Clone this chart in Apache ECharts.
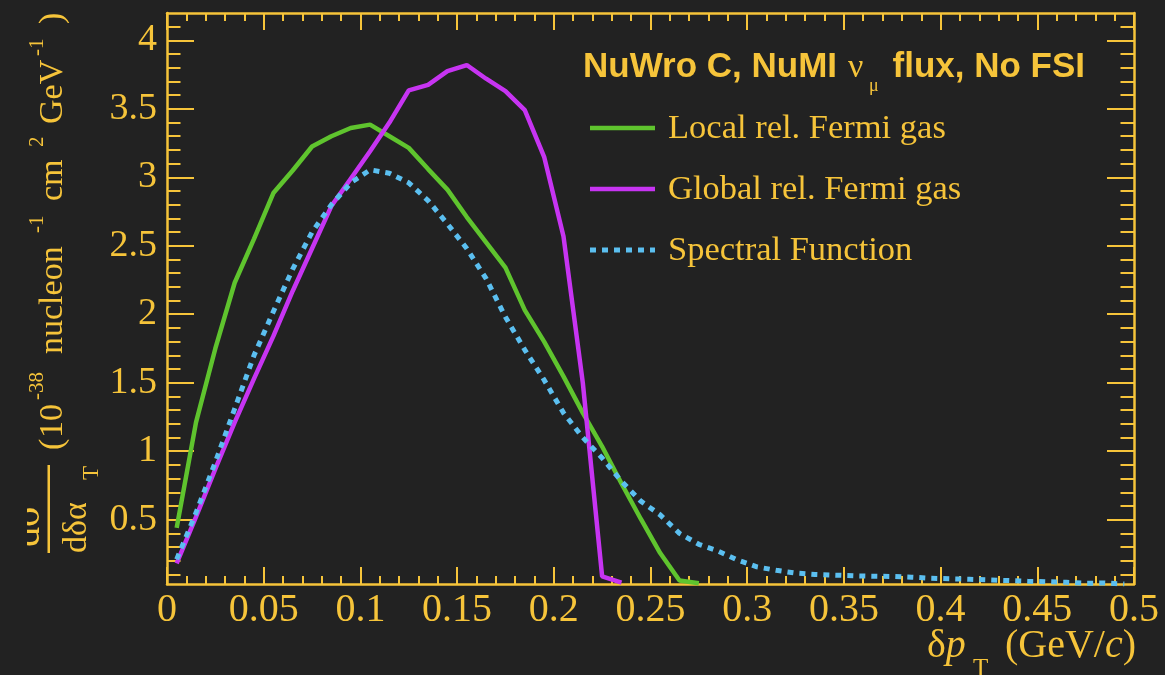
<!DOCTYPE html>
<html>
<head>
<meta charset="utf-8">
<script src="https://cdn.jsdelivr.net/npm/echarts@6/dist/echarts.min.js"></script>
<style>
html,body{margin:0;padding:0;background:#222222;}
#chart{width:1165px;height:675px;}
</style>
</head>
<body>
<div id="chart"></div>
<script>
// ---- data ----
const binCenters = [0.005,0.015,0.025,0.035,0.045,0.055,0.065,0.075,0.085,0.095,
  0.105,0.115,0.125,0.135,0.145,0.155,0.165,0.175,0.185,0.195,
  0.205,0.215,0.225,0.235,0.245,0.255,0.265,0.275,0.285,0.295,
  0.305,0.315,0.325,0.335,0.345,0.355,0.365,0.375,0.385,0.395,
  0.405,0.415,0.425,0.435,0.445,0.455,0.465,0.475,0.485,0.495];

const localRFG = [0.44,1.21,1.75,2.23,2.55,2.885,3.05,3.225,3.30,3.36,
  3.385,3.30,3.215,3.06,2.91,2.71,2.525,2.34,2.03,1.80,
  1.546,1.28,1.034,0.764,0.505,0.256,0.055,0.035];

const globalRFG = [0.18,0.52,0.87,1.21,1.53,1.84,2.17,2.48,2.79,2.99,
  3.19,3.40,3.635,3.675,3.775,3.82,3.72,3.63,3.49,3.15,
  2.57,1.50,0.085,0.04];

const spectralFn = [0.21,0.55,0.92,1.31,1.70,2.02,2.33,2.60,2.80,2.96,
  3.055,3.03,2.96,2.83,2.66,2.48,2.26,1.98,1.74,1.52,
  1.28,1.10,0.95,0.78,0.635,0.535,0.40,0.32,0.27,0.205,
  0.155,0.13,0.11,0.10,0.095,0.09,0.087,0.085,0.08,0.072,
  0.068,0.064,0.06,0.055,0.05,0.047,0.042,0.036,0.037,0.03];

const seriesNames = ['Local rel. Fermi gas','Global rel. Fermi gas','Spectral Function'];
const seriesColors = ['#5fc42e','#c734f2','#5bbff0'];

const xRange = [0, 0.5];
const xTickStep = 0.05;
const yRange = [0.03, 4.2];
const yMajorTicks = [0.5,1,1.5,2,2.5,3,3.5,4];
const yMinorTicks = [0.1,0.2,0.3,0.4,0.5,0.6,0.7,0.8,0.9,1.0,1.1,1.2,1.3,1.4,1.5,1.6,1.7,1.8,1.9,2.0,
  2.1,2.2,2.3,2.4,2.5,2.6,2.7,2.8,2.9,3.0,3.1,3.2,3.3,3.4,3.5,3.6,3.7,3.8,3.9,4.0,4.1];

// ---- chart ----
const YEL = '#f6c43a';
const SERIF = 'Liberation Serif';
const LINE_W = [4.5, 4.5, 5];
const LINE_TYPE = ['solid', 'solid', [6, 6]];

function pairs(vals){ return vals.map((v,i)=>[binCenters[i], v]); }

const chart = echarts.init(document.getElementById('chart'), null, {renderer:'canvas'});

function xAxisCfg(pos, showLabel){
  return {
    type:'value', position:pos, min:xRange[0], max:xRange[1], interval:xTickStep,
    axisLine:{show:true, onZero:false, lineStyle:{color:YEL, width:2.5}},
    axisTick:{show:true, inside:true, length:17, lineStyle:{color:YEL, width:2}},
    minorTick:{show:true, splitNumber:5, length:8, lineStyle:{color:YEL, width:2}},
    splitLine:{show:false}, minorSplitLine:{show:false},
    axisLabel:{show:showLabel, color:YEL, fontFamily:SERIF, fontSize:40, margin:6}
  };
}
function yAxisCfg(pos, major){
  return {
    type:'value', position:pos, min:yRange[0], max:yRange[1],
    axisLine:{show:major, onZero:false, lineStyle:{color:YEL, width:2.5}},
    axisTick:{show:true, inside:true, length: major ? 27 : 13.5,
      customValues: major ? yMajorTicks : yMinorTicks, lineStyle:{color:YEL, width:2}},
    splitLine:{show:false},
    axisLabel:{show: major && pos==='left', customValues: yMajorTicks, color:YEL,
      fontFamily:SERIF, fontSize:38, margin:10, padding:[5,0,0,0]}
  };
}

const datasets = [localRFG, globalRFG, spectralFn];

// legend drawn as graphic (line samples + labels)
const legendRowsY = [128, 189, 250];
const legendGraphics = [];
seriesNames.forEach((name, i) => {
  legendGraphics.push({type:'line', shape:{x1:590, y1:legendRowsY[i], x2:655, y2:legendRowsY[i]},
    style:{stroke:seriesColors[i], lineWidth:LINE_W[i], lineDash: i===2 ? [6,6] : null, lineCap:'butt'}});
  legendGraphics.push({type:'text', x:668, y:legendRowsY[i] + 1, style:{text:name, fill:YEL,
    font:'34.5px "Liberation Serif"', verticalAlign:'middle'}});
});

const SUP = '21px "Liberation Serif"';
const MAIN = '34px "Liberation Serif"';
const option = {
  backgroundColor:'#222222',
  animation:false,
  grid:{left:167, right:31, top:13, bottom:91, containLabel:false},
  xAxis:[xAxisCfg('bottom', true), xAxisCfg('top', false)],
  yAxis:[yAxisCfg('left', true), yAxisCfg('left', false), yAxisCfg('right', true), yAxisCfg('right', false)],
  series: datasets.map((d,i)=>({
    name: seriesNames[i], type:'line', xAxisIndex:0, yAxisIndex:0,
    data: pairs(d), symbol:'none', showSymbol:false, smooth:false,
    lineStyle:{color:seriesColors[i], width:LINE_W[i], type:LINE_TYPE[i], cap:'butt'},
    itemStyle:{color:seriesColors[i]},
    z: 3
  })),
  graphic:[
    // y axis title (rotated, reading bottom to top)
    {type:'group', x:0, y:560, rotation:Math.PI/2, children:[
      {type:'text', x:13, y:28, style:{text:'dσ', fill:YEL, font:'40px "Liberation Serif"', verticalAlign:'middle'}},
      {type:'text', x:7, y:77, style:{text:'dδα', fill:YEL, font:MAIN, verticalAlign:'middle'}},
      {type:'text', x:80, y:92, style:{text:'T', fill:YEL, font:'23px "Liberation Serif"', verticalAlign:'middle'}},
      {type:'text', x:110, y:53.5, style:{text:'(', fill:YEL, font:MAIN, verticalAlign:'middle'}},
      {type:'text', x:122, y:53.5, style:{text:'10', fill:YEL, font:MAIN, verticalAlign:'middle'}},
      {type:'text', x:160, y:37, style:{text:'-38', fill:YEL, font:SUP, verticalAlign:'middle'}},
      {type:'text', x:206, y:53.5, style:{text:'nucleon', fill:YEL, font:MAIN, verticalAlign:'middle'}},
      {type:'text', x:327, y:37, style:{text:'-1', fill:YEL, font:SUP, verticalAlign:'middle'}},
      {type:'text', x:359, y:53.5, style:{text:'cm', fill:YEL, font:MAIN, verticalAlign:'middle'}},
      {type:'text', x:413, y:37, style:{text:'2', fill:YEL, font:SUP, verticalAlign:'middle'}},
      {type:'text', x:436, y:53.5, style:{text:'GeV', fill:YEL, font:MAIN, verticalAlign:'middle'}},
      {type:'text', x:504, y:37, style:{text:'-1', fill:YEL, font:SUP, verticalAlign:'middle'}},
      {type:'text', x:536, y:53.5, style:{text:')', fill:YEL, font:MAIN, verticalAlign:'middle'}}
    ]},
    // clipping cover for numerator (as in reference)
    {type:'rect', shape:{x:0, y:440, width:27, height:130}, style:{fill:'#222222'}, z:100},
    // fraction bar
    {type:'rect', shape:{x:47.5, y:465, width:2.5, height:88}, style:{fill:YEL}},
    // x axis title
    {type:'text', x:927, y:646, style:{text:'{n|δ}{i|p}', fill:YEL, verticalAlign:'middle',
      rich:{n:{fontFamily:SERIF, fontSize:40, fill:YEL}, i:{fontFamily:SERIF, fontSize:40, fontStyle:'italic', fill:YEL}}}},
    {type:'text', x:973, y:669, style:{text:'T', fill:YEL, font:'25px "Liberation Serif"', verticalAlign:'middle'}},
    {type:'text', x:1136, y:646, style:{text:'{n|(GeV/}{i|c}{n|)}', fill:YEL, align:'right', verticalAlign:'middle',
      rich:{n:{fontFamily:SERIF, fontSize:40, fill:YEL}, i:{fontFamily:SERIF, fontSize:40, fontStyle:'italic', fill:YEL}}}},
    // legend header
    {type:'text', x:583, y:67, style:{text:'NuWro C, NuMI', fill:YEL, font:'bold 35px "Liberation Sans"', verticalAlign:'middle'}},
    {type:'text', x:848, y:68, style:{text:'ν', fill:YEL, font:'34px "Liberation Serif"', verticalAlign:'middle'}},
    {type:'text', x:869, y:86, style:{text:'μ', fill:YEL, font:'18px "Liberation Serif"', verticalAlign:'middle'}},
    {type:'text', x:1085, y:67, style:{text:'flux, No FSI', fill:YEL, font:'bold 35px "Liberation Sans"', align:'right', verticalAlign:'middle'}}
  ].concat(legendGraphics)
};
chart.setOption(option);
</script>
</body>
</html>
